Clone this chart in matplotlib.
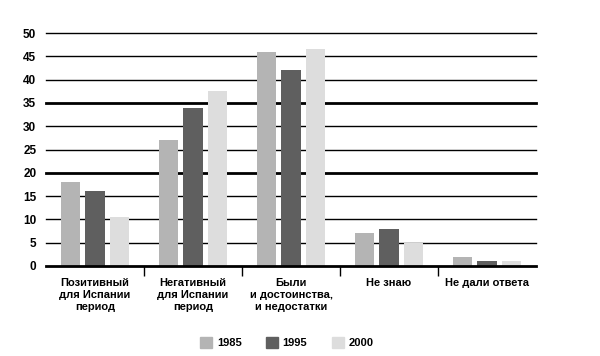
import numpy as np
import matplotlib
matplotlib.use('Agg')
import matplotlib.pyplot as plt
from matplotlib.patches import Patch
from matplotlib.ticker import FixedLocator

plt.rcParams['font.family'] = ['Liberation Sans Narrow', 'Liberation Sans', 'DejaVu Sans']

categories = ['Позитивный\nдля Испании\nпериод',
              'Негативный\nдля Испании\nпериод',
              'Были\nи достоинства,\nи недостатки',
              'Не знаю',
              'Не дали ответа']
years = ['1985', '1995', '2000']
v1985 = [18, 27, 46, 7, 2]
v1995 = [16, 34, 42, 8, 1]
v2000 = [10.5, 37.5, 46.5, 5, 1]
colors = ['#b4b4b4', '#5f5f5f', '#dddddd']

fig = plt.figure(figsize=(6, 3.56), dpi=100)
ax = fig.add_axes([46/600, 1-266/356, 490/600, 233/356])

x = np.arange(len(categories))
w = 0.194
step = 0.245
for i, (vals, c) in enumerate(zip([v1985, v1995, v2000], colors)):
    ax.bar(x + (i-1)*step, vals, width=w, color=c, zorder=3)

ax.set_xlim(-0.5, len(categories)-0.5)
ax.set_ylim(0, 50)
ax.set_yticks(range(0, 51, 5))
# сетка: линии 20 и 35 в оригинале толще
for yv in range(5, 51, 5):
    ax.axhline(yv, color='black', lw=2.0 if yv in (20, 35) else 1.0, zorder=1, clip_on=False)
for s in ['left', 'right', 'top']:
    ax.spines[s].set_visible(False)
ax.spines['bottom'].set_linewidth(2)
ax.spines['bottom'].set_zorder(4)

ax.set_xticks(x)
ax.set_xticklabels(categories, fontsize=8, fontweight='bold', linespacing=1.2, va='top')
ax.xaxis.set_minor_locator(FixedLocator(x[:-1] + 0.5))
ax.tick_params(axis='x', which='major', length=0, pad=9)
ax.tick_params(axis='x', which='minor', length=7, width=1, direction='out', color='black')
ax.tick_params(axis='y', length=0, pad=7, labelsize=8.5)
for t in ax.get_yticklabels():
    t.set_fontweight('bold')

handles = [Patch(color=c, label=y) for c, y in zip(colors, years)]
leg = fig.legend(handles=handles, loc='center', bbox_to_anchor=(0.478, 0.038), ncol=3,
                 frameon=False, handlelength=1.1, handleheight=1.1, handletextpad=0.4,
                 columnspacing=2.2, prop={'size': 8, 'weight': 'bold'})

fig.savefig('out.png', dpi=100)
